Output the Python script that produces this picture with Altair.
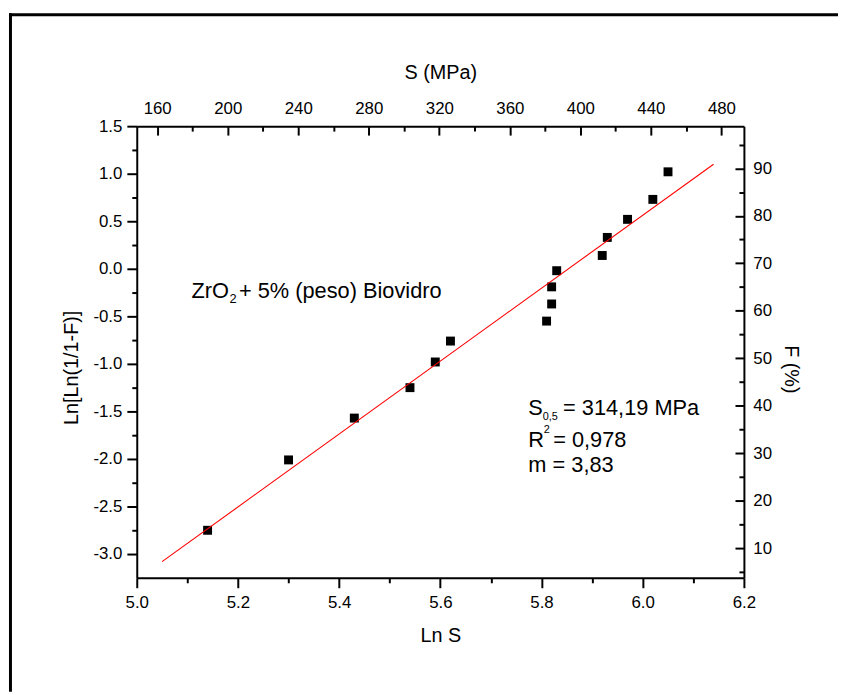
import altair as alt
import numpy as np
import pandas as pd

# ---------------- data ----------------
ln_s = [5.14, 5.30, 5.43, 5.54, 5.59, 5.62, 5.81, 5.82, 5.82, 5.83, 5.92, 5.93, 5.97, 6.02, 6.05]
ln_ln = [-2.75, -2.01, -1.57, -1.25, -0.98, -0.76, -0.55, -0.37, -0.19, -0.02, 0.14, 0.33, 0.52, 0.73, 1.02]

fit_x = [5.05, 6.14]
fit_y = [-3.08, 1.10]

x_ticks = [5.0, 5.1, 5.2, 5.3, 5.4, 5.5, 5.6, 5.7, 5.8, 5.9, 6.0, 6.1, 6.2]
x_major = [5.0, 5.2, 5.4, 5.6, 5.8, 6.0, 6.2]
y_ticks = [-3.0, -2.75, -2.5, -2.25, -2.0, -1.75, -1.5, -1.25, -1.0, -0.75, -0.5,
           -0.25, 0.0, 0.25, 0.5, 0.75, 1.0, 1.25, 1.5]
y_major = [-3.0, -2.5, -2.0, -1.5, -1.0, -0.5, 0.0, 0.5, 1.0, 1.5]
s_ticks = [160, 180, 200, 220, 240, 260, 280, 300, 320, 340, 360, 380, 400, 420, 440, 460, 480]
s_major = [160, 200, 240, 280, 320, 360, 400, 440, 480]
f_ticks = [5, 10, 15, 20, 25, 30, 35, 40, 45, 50, 55, 60, 65, 70, 75, 80, 85, 90, 95]
f_major = [10, 20, 30, 40, 50, 60, 70, 80, 90]

x_domain = [5.0, 6.2]
y_domain = [-3.25, 1.5]
s_domain = [float(np.exp(x_domain[0])), float(np.exp(x_domain[1]))]
f_domain = [float(100 * (1 - np.exp(-np.exp(y_domain[0])))),
            float(100 * (1 - np.exp(-np.exp(y_domain[1]))))]

# annotation pieces: text, x, y (data units of the main axes), dx, dy, font size
annotations = [
    ("ZrO", 5.108, -0.307, 0, 0, 22),
    ("2", 5.108, -0.307, 38.5, 5, 13),
    ("+ 5% (peso) Biovidro", 5.108, -0.307, 48, 0, 22),
    ("S", 5.774, -1.538, 0, 0, 22),
    ("0,5", 5.774, -1.538, 14.5, 5, 11),
    ("= 314,19 MPa", 5.774, -1.538, 35, 0, 22),
    ("R", 5.774, -1.875, 0, 0, 22),
    ("2", 5.774, -1.875, 15.5, -14, 11),
    ("= 0,978", 5.774, -1.875, 25, 0, 22),
    ("m = 3,83", 5.774, -2.135, 0, 0, 22),
]

FONT = "Liberation Sans"
W, H = 613, 456


def cond_size(test, major, minor):
    return {"condition": {"test": test, "value": major}, "value": minor}


x_scale = alt.Scale(domain=x_domain, nice=False, zero=False)
y_scale = alt.Scale(domain=y_domain, nice=False, zero=False)
s_scale = alt.Scale(domain=s_domain, nice=False, zero=False)
f_scale = alt.Scale(domain=f_domain, nice=False, zero=False)

pts_df = pd.DataFrame({"lnS": ln_s, "lnln": ln_ln})
fit_df = pd.DataFrame({"lnS": fit_x, "lnln": fit_y})

layers = []

# data marks
layers.append(
    alt.Chart(pts_df).mark_square(size=81, color="black", opacity=1).encode(
        x=alt.X("lnS:Q", scale=x_scale, axis=None),
        y=alt.Y("lnln:Q", scale=y_scale, axis=None),
    )
)
layers.append(
    alt.Chart(fit_df).mark_line(color="#ff0000", strokeWidth=1.1).encode(
        x=alt.X("lnS:Q", scale=x_scale, axis=None),
        y=alt.Y("lnln:Q", scale=y_scale, axis=None),
    )
)
for txt, ax, ay, dx, dy, fs in annotations:
    tdf = pd.DataFrame({"lnS": [ax], "lnln": [ay], "t": [txt]})
    layers.append(
        alt.Chart(tdf).mark_text(align="left", baseline="alphabetic", dx=dx, dy=dy,
                                 fontSize=fs, font=FONT, color="black").encode(
            x=alt.X("lnS:Q", scale=x_scale, axis=None),
            y=alt.Y("lnln:Q", scale=y_scale, axis=None),
            text="t:N",
        )
    )


def x_axis_layer(values, scale, axis):
    return alt.Chart(pd.DataFrame({"v": values})).mark_point(opacity=0).encode(
        x=alt.X("v:Q", scale=scale, axis=axis), y=alt.value(0))


def y_axis_layer(values, scale, axis):
    return alt.Chart(pd.DataFrame({"v": values})).mark_point(opacity=0).encode(
        y=alt.Y("v:Q", scale=scale, axis=axis), x=alt.value(0))


# bottom axis: Ln S (labels + outward ticks)
layers.append(x_axis_layer(x_major, x_scale, alt.Axis(
    orient="bottom", values=x_major, format=".1f", ticks=False, tickSize=0,
    labelPadding=17, title="Ln S", titleY=64, titleBaseline="alphabetic")))
layers.append(x_axis_layer(x_ticks, x_scale, alt.Axis(
    orient="bottom", values=x_ticks, labels=False, domain=False, title="",
    tickSize=cond_size("abs(datum.value*5 - round(datum.value*5)) < 0.001", 10, 5))))

# left axis: Ln[Ln(1/1-F)]
layers.append(y_axis_layer(y_major, y_scale, alt.Axis(
    orient="left", values=y_major, format=".1f", ticks=False, tickSize=0,
    labelPadding=15, title="Ln[Ln(1/1-F)]", titleX=-60, titleY=243.5,
    titleAngle=270, titleBaseline="alphabetic", titleAlign="center")))
layers.append(y_axis_layer(y_ticks, y_scale, alt.Axis(
    orient="left", values=y_ticks, labels=False, domain=False, title="",
    tickSize=cond_size("abs(datum.value*2 - round(datum.value*2)) < 0.001", 10, 5))))

# top axis: S (MPa) with inward ticks
layers.append(x_axis_layer(s_major, s_scale, alt.Axis(
    orient="top", values=s_major, ticks=False, tickSize=0, labelPadding=9,
    title="S (MPa)", titleY=-48, titleBaseline="alphabetic")))
layers.append(x_axis_layer(s_ticks, s_scale, alt.Axis(
    orient="bottom", offset=-H, values=s_ticks, labels=False, domain=False, title="",
    tickSize=cond_size("datum.value % 40 == 0", 9, 5))))

# right axis: F (%) with inward ticks
layers.append(y_axis_layer(f_major, f_scale, alt.Axis(
    orient="right", values=f_major, ticks=False, tickSize=0, labelPadding=9,
    title="F (%)", titleX=41, titleY=245, titleAngle=90,
    titleBaseline="alphabetic", titleAlign="center")))
layers.append(y_axis_layer(f_ticks, f_scale, alt.Axis(
    orient="left", offset=-W, values=f_ticks, labels=False, domain=False, title="",
    tickSize=cond_size("datum.value % 10 == 0", 9, 5))))

# outer frame (decoration)
frame_df = pd.DataFrame({"k": [0]})
layers.append(alt.Chart(frame_df).mark_rule(color="black", strokeWidth=3).encode(
    x=alt.value(-129), x2=alt.value(708), y=alt.value(-112.5)))
layers.append(alt.Chart(frame_df).mark_rule(color="black", strokeWidth=3).encode(
    x=alt.value(-127.5), y=alt.value(-114), y2=alt.value(571)))

chart = (
    alt.layer(*layers)
    .resolve_scale(x="independent", y="independent")
    .properties(
        width=W, height=H,
        padding={"left": 130, "top": 116, "right": 95, "bottom": 115},
        autosize=alt.AutoSizeParams(type="none"),
    )
    .configure_view(strokeOpacity=0)
    .configure_axis(
        labelFont=FONT, titleFont=FONT, labelFontSize=17, titleFontSize=20,
        labelColor="black", titleColor="black", domainColor="black", tickColor="black",
        domainWidth=2, tickWidth=2, titleFontWeight="normal", labelOverlap=False,
        labelFlush=False, grid=False,
    )
)

chart.save("out.html", embed_options={
    "renderer": "svg", "actions": False,
    "formatLocale": {"decimal": ".", "thousands": ",", "grouping": [3],
                     "currency": ["", ""], "minus": "-"},
})
